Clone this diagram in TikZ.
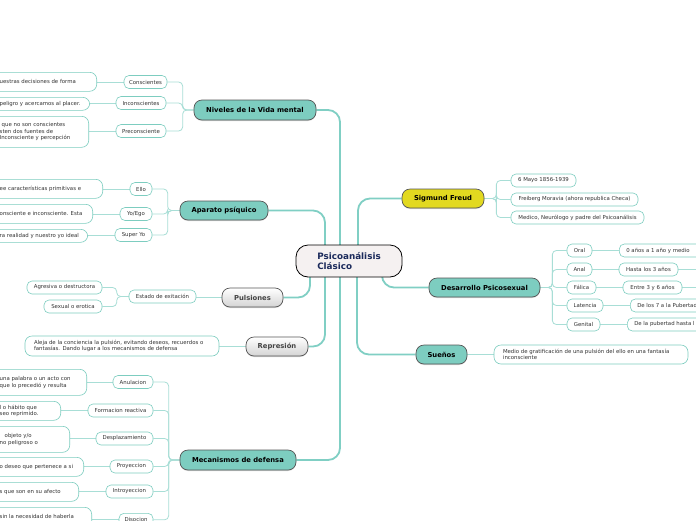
\documentclass[tikz,border=0pt]{standalone}
\usepackage{fontspec}
\setmainfont{DejaVu Sans}
\usetikzlibrary{shadows}
\pgfdeclarelayer{bg}
\pgfsetlayers{bg,main}
\definecolor{tealfill}{HTML}{7DCDC0}
\definecolor{mainline}{HTML}{80CFC4}
\definecolor{subline}{HTML}{A8DED6}
\definecolor{leafborder}{HTML}{7DCDC0}
\definecolor{mainborder}{HTML}{555555}
\definecolor{yellowfill}{HTML}{E2D920}
\definecolor{ctrfill}{HTML}{F5F1F1}
\definecolor{navy}{HTML}{1B2A5B}
\definecolor{txtgray}{HTML}{333333}
\definecolor{graytxt}{HTML}{444444}
\newcommand{\lbx}[2]{\makebox[#1pt][l]{#2}}
\tikzset{
  mainbox/.style={draw=mainborder, line width=0.7pt, fill=tealfill, rounded corners=8pt,
    font=\fontsize{6.8}{8}\selectfont\bfseries, text=black, inner sep=0pt,
    drop shadow={shadow xshift=0pt,shadow yshift=-1pt,opacity=0.3}},
  graybox/.style={mainbox, fill=none, top color=white, bottom color=black!17, text=graytxt},
  subbox/.style={draw=leafborder, line width=0.6pt, fill=white, rounded corners=5pt,
    minimum height=13pt, inner sep=0pt, text=txtgray},
  leafbox/.style={draw=leafborder, line width=0.6pt, fill=white, rounded corners=7pt,
    inner xsep=8pt, inner ysep=0pt, align=left, text=txtgray, anchor=north east},
  mline/.style={draw=mainline, line width=1.8pt, rounded corners=12pt},
  sline/.style={draw=subline, line width=0.8pt, rounded corners=4pt},
}
\begin{document}
\begin{tikzpicture}[x=1pt,y=-1pt, font=\fontsize{5.4}{6.5}\selectfont]
\useasboundingbox (0,0) rectangle (696,520);
% center
\node[draw, line width=0.8pt, fill=ctrfill, rounded corners=12pt, minimum width=106pt,
  minimum height=32pt, align=left, font=\fontsize{8.8}{10.5}\selectfont\bfseries, text=navy,
  inner sep=0pt] (ctr) at (349,261) {Psicoanálisis\\Clásico};
% main nodes
\node[mainbox, minimum width=122pt, minimum height=20pt] (niv) at (255,110) {Niveles de la Vida mental};
\node[mainbox, minimum width=88pt, minimum height=19pt] (apa) at (224,210.5) {Aparato psíquico};
\node[graybox, minimum width=61pt, minimum height=19pt] (pul) at (252.5,297.5) {Pulsiones};
\node[graybox, minimum width=62pt, minimum height=19pt] (rep) at (277,346.5) {Represión};
\node[mainbox, minimum width=116pt, minimum height=20pt] (mec) at (238,460) {Mecanismos de defensa};
\node[mainbox, fill=yellowfill, minimum width=82pt, minimum height=19pt] (sig) at (443,198.5) {Sigmund Freud};
\node[mainbox, minimum width=111pt, minimum height=19pt] (des) at (484.5,287.5) {Desarrollo Psicosexual};
\node[mainbox, minimum width=51pt, minimum height=19pt] (sue) at (441.5,354.5) {Sueños};
% sub nodes left
\node[subbox, minimum width=43pt] (con) at (145.5,82) {Conscientes};
\node[subbox, minimum width=50pt] (inc) at (141,103) {Inconscientes};
\node[subbox, minimum width=50pt] (pre) at (141,131) {Preconsciente};
\node[subbox, minimum width=22pt] (ello) at (141,189) {Ello};
\node[subbox, minimum width=32pt] (yo) at (136,214) {Yo/Ego};
\node[subbox, minimum width=37pt] (sup) at (133.5,235) {Super Yo};
\node[subbox, minimum width=67pt] (est) at (162.5,296.5) {Estado de exitación};
\node[subbox, minimum width=75pt] (agr) at (64.5,287.5) {Agresiva o destructora};
\node[subbox, minimum width=58pt] (sex) at (73,306.5) {Sexual o erotica};
\node[subbox, minimum width=40pt] (anu) at (133,382) {Anulacion};
\node[subbox, minimum width=65pt] (for) at (120.5,410.5) {Formacion reactiva};
\node[subbox, minimum width=57pt] (dsp) at (124.5,438.5) {Desplazamiento};
\node[subbox, minimum width=43pt] (pro) at (131.5,466.5) {Proyeccion};
\node[subbox, minimum width=47pt] (int) at (129.5,491.5) {Introyeccion};
\node[subbox, minimum width=34pt, anchor=north] (dis) at (136,513) {Disocion};
% sub nodes right
\node[subbox, minimum width=65pt] (f1) at (543.5,180.5) {6 Mayo 1856-1939};
\node[subbox, minimum width=127pt] (f2) at (574.5,199.5) {Freiberg Moravia (ahora republica Checa)};
\node[subbox, minimum width=133pt] (f3) at (577.5,217.5) {Medico, Neurólogo y padre del Psicoanálisis};
\node[subbox, minimum width=25pt] (oral) at (579.5,250.5) {Oral};
\node[subbox, minimum width=25pt] (anal) at (579.5,269.5) {Anal};
\node[subbox, minimum width=29pt] (fal) at (581.5,287.5) {Fálica};
\node[subbox, minimum width=36pt] (lat) at (585,305.5) {Latencia};
\node[subbox, minimum width=33pt] (gen) at (583.5,324.5) {Genital};
\node[subbox, anchor=west, inner xsep=7pt] (loral) at (619,250.5) {\lbx{80}{0 años a 1 año y medio}};
\node[subbox, minimum width=59pt] (lanal) at (648.5,269.5) {Hasta los 3 años};
\node[subbox, minimum width=59pt] (lfal) at (652.5,287.5) {Entre 3 y 6 años};
\node[subbox, anchor=west, inner xsep=7pt] (llat) at (630,305.5) {\lbx{80}{De los 7 a la Pubertad}};
\node[subbox, anchor=west, inner xsep=7pt] (lgen) at (627,324.5) {\lbx{80}{De la pubertad hasta l}};
\coordinate (ea) at (696,269.5);
\coordinate (ef) at (696,287.5);
% leaves
\node[leafbox, anchor=center, minimum width=194pt, minimum height=19pt] (lsue) at (591,354.5) {\lbx{176}{Medio de gratificación de una pulsión del ello en una fantasía}\\\lbx{176}{inconsciente}};
\node[leafbox, anchor=center, minimum width=194pt, minimum height=20pt] (lrep) at (122,346) {\lbx{176}{Aleja de la conciencia la pulsión, evitando deseos, recuerdos o}\\\lbx{176}{fantasías. Dando lugar a los mecanismos de defensa}};
\node[leafbox, minimum height=19pt] (n1) at (97,72) {\lbx{89}{uestras decisiones de forma}};
\node[leafbox, minimum height=13pt] (n2) at (90,97) {\lbx{82}{peligro y acercamos al placer.}};
\node[leafbox, minimum height=31pt] (n3) at (89,116) {\lbx{81}{\hspace*{2pt}que no son conscientes}\\\lbx{81}{sten dos fuentes de}\\\lbx{81}{Inconsciente y percepción}};
\node[leafbox, minimum height=19pt] (a1) at (103,179) {\lbx{95}{ee características primitivas e}};
\node[leafbox, minimum height=19pt] (a2) at (93,204) {\lbx{85}{onsciente e inconsciente. Esta}};
\node[leafbox, minimum height=13pt] (a3) at (88,229) {\lbx{80}{ra realidad y nuestro yo ideal}};
\node[leafbox, minimum height=26pt] (m1) at (87,369) {\lbx{79}{una palabra o un acto con}\\\lbx{79}{que lo precedió y resulta}};
\node[leafbox, minimum height=19pt] (m2) at (61,401) {\lbx{53}{l o hábito que}\\\lbx{53}{seo reprimido.}};
\node[leafbox, minimum height=26pt] (m3) at (70,426) {\lbx{62}{\hspace*{5pt}objeto y/o}\\\lbx{62}{no peligroso o}};
\node[leafbox, minimum height=19pt] (m4) at (84,457) {\lbx{76}{o deseo que pertenece a si}};
\node[leafbox, minimum height=19pt] (m5) at (79,482) {\lbx{71}{s que son en su afecto}};
\node[leafbox, minimum height=26pt, text depth=8pt] (m6) at (92,507) {\lbx{84}{sin la necesidad de haberla}};
% connectors
\begin{pgfonlayer}{bg}
\fill[white] (0,0) rectangle (696,520);
\draw[mline] ([xshift=-9pt]ctr.center) |- (niv.east);
\draw[mline] ([xshift=-24pt]ctr.center) |- (apa.east);
\draw[mline] ([xshift=9pt]ctr.center) |- (sig.west);
\draw[mline] ([xshift=-39pt]ctr.center) |- (pul.east);
\draw[mline] ([xshift=-24pt]ctr.center) |- (rep.east);
\draw[mline] ([xshift=-9pt]ctr.center) |- (mec.east);
\draw[mline] ([xshift=8pt]ctr.center) |- (sue.west);
\draw[mline] ([xshift=33pt]ctr.center) |- (des.west);
% niveles
\foreach \c in {con,inc,pre} \draw[sline] (niv.west) -- ++(-11,0) |- (\c.east);
\draw[sline] (con.west) -- (n1.east |- con.west);
\draw[sline] (inc.west) -- (n2.east |- inc.west);
\draw[sline] (pre.west) -- (n3.east |- pre.west);
% aparato
\foreach \c in {ello,yo,sup} \draw[sline] (apa.west) -- ++(-12,0) |- (\c.east);
\draw[sline] (ello.west) -- (a1.east |- ello.west);
\draw[sline] (yo.west) -- (a2.east |- yo.west);
\draw[sline] (sup.west) -- (a3.east |- sup.west);
% pulsiones
\draw[sline] (pul.west) -- (est.east |- pul.west);
\foreach \c in {agr,sex} \draw[sline] (est.west) -- ++(-12,0) |- (\c.east);
% represion
\draw[sline] (rep.west) -- (lrep.east |- rep.west);
% mecanismos
\foreach \c in {anu,for,dsp,pro,int,dis} \draw[sline] (mec.west) -- ++(-11,0) |- (\c.east);
\draw[sline] (anu.west) -- (m1.east |- anu.west);
\draw[sline] (for.west) -- (m2.east |- for.west);
\draw[sline] (dsp.west) -- (m3.east |- dsp.west);
\draw[sline] (pro.west) -- (m4.east |- pro.west);
\draw[sline] (int.west) -- (m5.east |- int.west);
\draw[sline] (dis.west) -- (m6.east |- dis.west);
% sigmund
\foreach \c in {f1,f2,f3} \draw[sline] (sig.east) -- ++(12,0) |- (\c.west);
% desarrollo
\foreach \c in {oral,anal,fal,lat,gen} \draw[sline] (des.east) -- ++(12,0) |- (\c.west);
\draw[sline] (oral.east) -- (loral.west);
\draw[sline] (anal.east) -- (lanal.west);
\draw[sline] (fal.east) -- (lfal.west);
\draw[sline] (lat.east) -- (llat.west);
\draw[sline] (gen.east) -- (lgen.west);
\draw[sline] (lanal.east) -- (ea);
\draw[sline] (lfal.east) -- (ef);
% suenos
\draw[sline] (sue.east) -- (lsue.west);
\end{pgfonlayer}
\end{tikzpicture}
\end{document}
